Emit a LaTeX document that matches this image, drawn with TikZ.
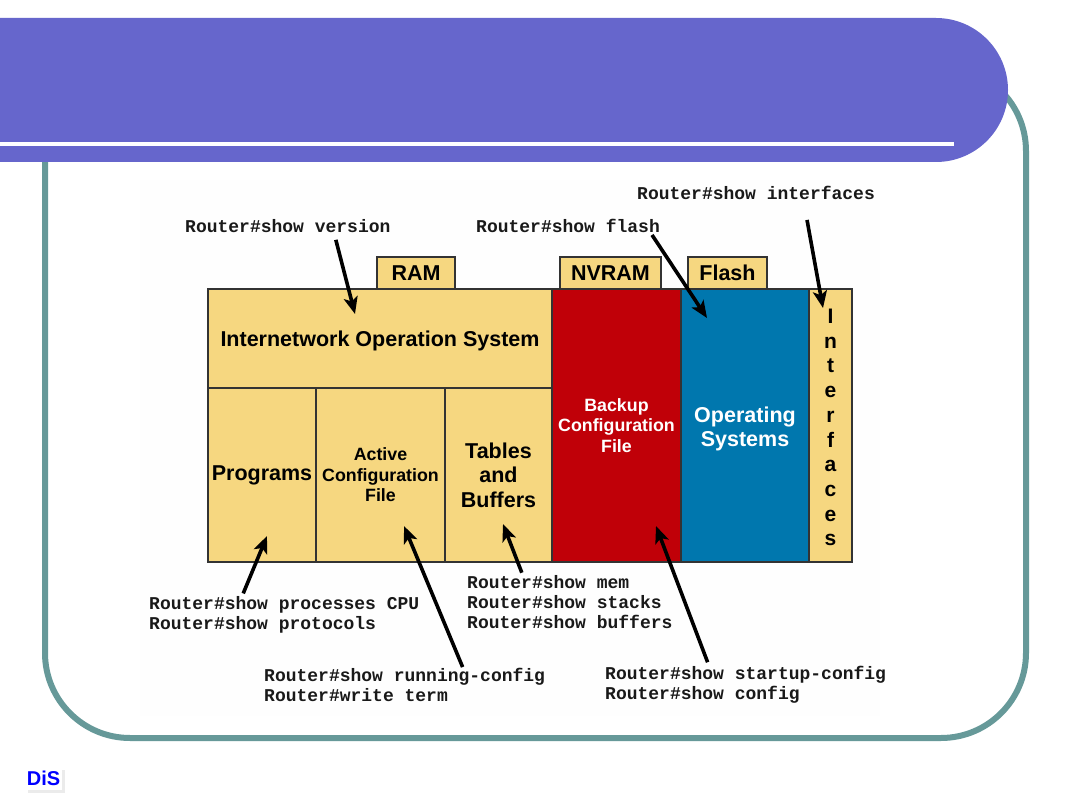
\documentclass[tikz,border=0pt]{standalone}
\usepackage{fontspec}
\setmainfont{Liberation Sans}
\setmonofont{Liberation Mono}
\usetikzlibrary{positioning,arrows.meta}
\definecolor{slidebar}{HTML}{6666CC}
\definecolor{slideedge}{HTML}{669999}
\definecolor{memyellow}{HTML}{F6D780}
\definecolor{memred}{HTML}{C00008}
\definecolor{memblue}{HTML}{0077AE}
\definecolor{linegray}{HTML}{333333}
\definecolor{imagepatch}{HTML}{FEFEFE}
\tikzset{
  >={Stealth[length=17pt, width=14pt, inset=4pt]},
  memory/.style={draw=linegray, line width=1.5pt, fill=memyellow, inner sep=0pt, outer sep=0pt, align=center, font=\fontsize{21.5}{24.5}\selectfont\bfseries},
  tab/.style={memory, minimum height=32pt},
  small/.style={font=\fontsize{17.8}{20.5}\selectfont\bfseries},
  command/.style={inner sep=0pt, anchor=west, align=left, text=black!90, font=\fontsize{18}{20}\selectfont\ttfamily\bfseries},
  pointer/.style={->, line width=3.6pt, black},
}

\begin{document}
\begin{tikzpicture}[x=1pt, y=-1pt]
    \useasboundingbox (0,0) rectangle (1080,810);
    \fill[white] (0,0) rectangle (1080,810);
    \fill[imagepatch] (140,180) rectangle (880,716);
    \draw[slideedge, line width=6pt, rounded corners=85pt] (45,66) rectangle (1026,738);
    \fill[slidebar] (0,18) [rounded corners=72pt] -- (1008,18) -- (1008,162) [sharp corners] -- (0,162) -- cycle;
    \fill[white] (0,142) rectangle (954,146);
    % memory blocks
    \node[memory, minimum width=344pt, minimum height=99pt, text height=20pt, anchor=north west] (ios) at (208,289) {Internetwork Operation System};
    \node[memory, minimum width=108pt, minimum height=174pt] (programs) [below right=0pt and 0pt of ios.south west] {Programs};
    \node[memory, small, minimum width=129pt, minimum height=174pt] (active) [right=0pt of programs] {Active\\Configuration\\File};
    \node[memory, minimum width=107pt, minimum height=174pt] (tables) [right=0pt of active] {Tables\\and\\Buffers};
    \node[memory, small, fill=memred, text=white, minimum width=129pt, minimum height=273pt] (backup) [below right=0pt and 0pt of ios.north east] {Backup\\Configuration\\File};
    \node[memory, fill=memblue, text=white, minimum width=128pt, minimum height=273pt, text height=46pt, font=\fontsize{21.5}{24}\selectfont\bfseries] (os) [right=0pt of backup] {Operating\\Systems};
    \node[memory, minimum width=43pt, minimum height=273pt, text height=241pt, font=\fontsize{21}{24.7}\selectfont\bfseries] (interfaces) [right=0pt of os] {I\\n\\t\\e\\r\\f\\a\\c\\e\\s};
    \node[tab, minimum width=78pt, anchor=south west] (ram) at (377,289) {RAM};
    \node[tab, minimum width=101pt, anchor=south west] (nvram) at (560,289) {NVRAM};
    \node[tab, minimum width=79pt, anchor=south west] (flash) at (688,289) {Flash};
    % commands
    \node[command] (version) at (185,226) {Router\#show version};
    \node[command] (showflash) at (476,226) {Router\#show flash};
    \node[command] (showint) at (637,193) {Router\#show interfaces};
    \node[command] (processes) at (149,615) {Router\#show processes CPU\\Router\#show protocols};
    \node[command] (running) at (264,685) {Router\#show running-config\\Router\#write term};
    \node[command] (mem) at (467,602.5) {Router\#show mem\\Router\#show stacks\\Router\#show buffers};
    \node[command] (startup) at (605,685) {Router\#show startup-config\\Router\#show config};
    \fill[black!8] (28,770) rectangle (65,793);
    \node[inner sep=0pt, minimum width=37pt, minimum height=23pt, fill=white, text=blue, font=\fontsize{20}{20}\selectfont\bfseries] (logo) at (43.5,778.5) {DiS};
    % arrow targets
    \coordinate (toios) at (355,314);
    \coordinate (toos) at (707,318);
    \coordinate (toint) at (823,308);
    \coordinate (toprog) at (267,536);
    \coordinate (toactive) at (404,526);
    \coordinate (totables) at (503,524);
    \coordinate (tobackup) at (656,526);
    \draw[pointer] ([xshift=48pt, yshift=-7pt]version.south) -- (toios);
    \draw[pointer] ([xshift=84pt, yshift=-2pt]showflash.south) -- (toos);
    \draw[pointer] ([xshift=51pt, yshift=-20pt]showint.south) -- (toint);
    \draw[pointer] ([xshift=-41pt, yshift=3pt]processes.north) -- (toprog);
    \draw[pointer] ([xshift=58pt, yshift=1pt]running.north) -- (toactive);
    \draw[pointer] ([xshift=-48pt, yshift=3pt]mem.north) -- (totables);
    \draw[pointer] ([xshift=-38pt, yshift=4pt]startup.north) -- (tobackup);
\end{tikzpicture}
\end{document}
